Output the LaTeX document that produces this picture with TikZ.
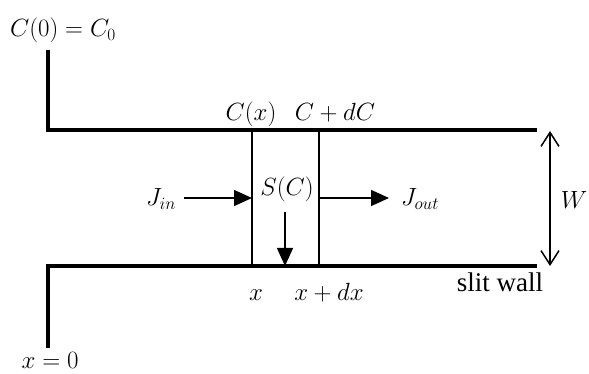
\documentclass[tikz,border=0pt]{standalone}
\usepackage{fontspec}
\setmainfont{Liberation Serif}
\usetikzlibrary{arrows.meta,positioning}

\begin{document}
\begin{tikzpicture}[x=1pt,y=-1pt,>=Latex,
    wall/.style={line width=3.6pt,line join=miter},
    cell/.style={line width=1.5pt},
    flux/.style={cell,-{Triangle[length=18pt,width=16pt]}},
    span/.style={cell,{Straight Barb[length=14pt,width=18pt]}-{Straight Barb[length=14pt,width=18pt]}},
    lbl/.style={font=\fontsize{23}{27}\selectfont,inner sep=0pt,anchor=base}]
  \useasboundingbox (0,0) rectangle (589,374);
  % walls of the slit
  \coordinate (topend) at (48,50);
  \coordinate (topleft) at (48,130);
  \coordinate (topright) at (537,130);
  \coordinate (botleft) at (48,266);
  \coordinate (botright) at (537,266);
  \coordinate (botend) at (48,348);
  \draw[wall] (topend) -- (topleft) -- (topright);
  \draw[wall] (botend) -- (botleft) -- (botright);
  % control volume
  \coordinate (xa) at (252,130);
  \coordinate (xb) at (252,266);
  \coordinate (dxa) at (319,130);
  \coordinate (dxb) at (319,266);
  \draw[cell] (xa) -- (xb);
  \draw[cell] (dxa) -- (dxb);
  % fluxes
  \coordinate (inbeg) at (184,198);
  \coordinate (inend) at (252,198);
  \coordinate (outbeg) at (320,198);
  \coordinate (outend) at (389,198);
  \coordinate (sinkbeg) at (285,212);
  \coordinate (sinkend) at (285,266);
  \draw[flux] (inbeg) -- (inend);
  \draw[flux] (outbeg) -- (outend);
  \draw[flux] (sinkbeg) -- (sinkend);
  % slit width
  \coordinate (wtop) at (550,131);
  \coordinate (wbot) at (550,266);
  \draw[span] (wtop) -- (wbot);
  % labels
  \node[lbl] (czero) at (63,37) {$C(0)=C_0$};
  \node[lbl] (xzero) at (50,368) {$x=0$};
  \node[lbl] (cx) at (251,121) {$C(x)$};
  \node[lbl] (cdc) at (335,121) {$C+dC$};
  \node[lbl] (jin) at (161,206) {$J_{in}$};
  \node[lbl] (jout) at (420,206) {$J_{out}$};
  \node[lbl] (sc) at (287,196) {$S(C)$};
  \node[lbl] (xpos) at (256,300) {$x$};
  \node[lbl] (xdx) at (329,300) {$x+dx$};
  \node[lbl] (wlbl) at (574,209) {$W$};
  \node[lbl,font=\fontsize{27}{30}\selectfont] (slit) at (500,291) {slit wall};
\end{tikzpicture}
\end{document}
